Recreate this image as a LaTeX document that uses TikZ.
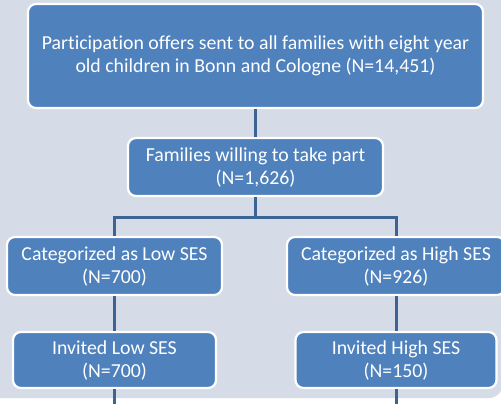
\documentclass[tikz,border=0pt]{standalone}
\usepackage{fontspec}
\setmainfont{Carlito}[Ligatures=CommonOff]
\definecolor{panel}{HTML}{D5DCE8}
\definecolor{boxfill}{HTML}{4F81BD}
\definecolor{conn}{HTML}{3B6494}
\tikzset{
  box/.style={rectangle, rounded corners=8pt, fill=boxfill, draw=white, line width=2.2pt,
    text=white, align=center, font=\fontsize{19.8}{23}\selectfont, inner sep=0pt},
  conline/.style={draw=conn, line width=3pt}
}
\begin{document}
\begin{tikzpicture}[x=1pt,y=-1pt]
\useasboundingbox (0,0) rectangle (501,404);
\fill[white] (0,0) rectangle (501,404);
\fill[panel, rounded corners=14pt] (-30,-30) rectangle (503,398);
\coordinate (split) at (255.5,217);
\coordinate (endlow) at (114.5,406);
\coordinate (endhigh) at (396,406);
% boxes
\node[box, minimum width=455pt, minimum height=104pt] (top) at (255.5,56)
  {Participation offers sent to all families with eight year\\old children in Bonn and Cologne (N=14,451)};
\node[box, minimum width=255pt, minimum height=58pt] (will) at (255.5,167)
  {Families willing to take part\\(N=1,626)};
\node[box, minimum width=215pt, minimum height=58pt] (low) at (114.5,266)
  {Categorized as Low SES\\(N=700)};
\node[box, minimum width=218pt, minimum height=58pt] (high) at (396,266)
  {Categorized as High SES\\(N=926)};
\node[box, minimum width=203pt, minimum height=56pt] (invlow) at (114.5,360)
  {Invited Low SES\\(N=700)};
\node[box, minimum width=201pt, minimum height=56pt] (invhigh) at (396,360)
  {Invited High SES\\(N=150)};
% connectors
\draw[conline] (top.south) -- (will.north);
\draw[conline] (will.south) -- (split) -| (low.north);
\draw[conline] (split) -| (high.north);
\draw[conline] (low.south) -- (invlow.north);
\draw[conline] (high.south) -- (invhigh.north);
\draw[conline] (invlow.south) -- (endlow);
\draw[conline] (invhigh.south) -- (endhigh);
\end{tikzpicture}
\end{document}
